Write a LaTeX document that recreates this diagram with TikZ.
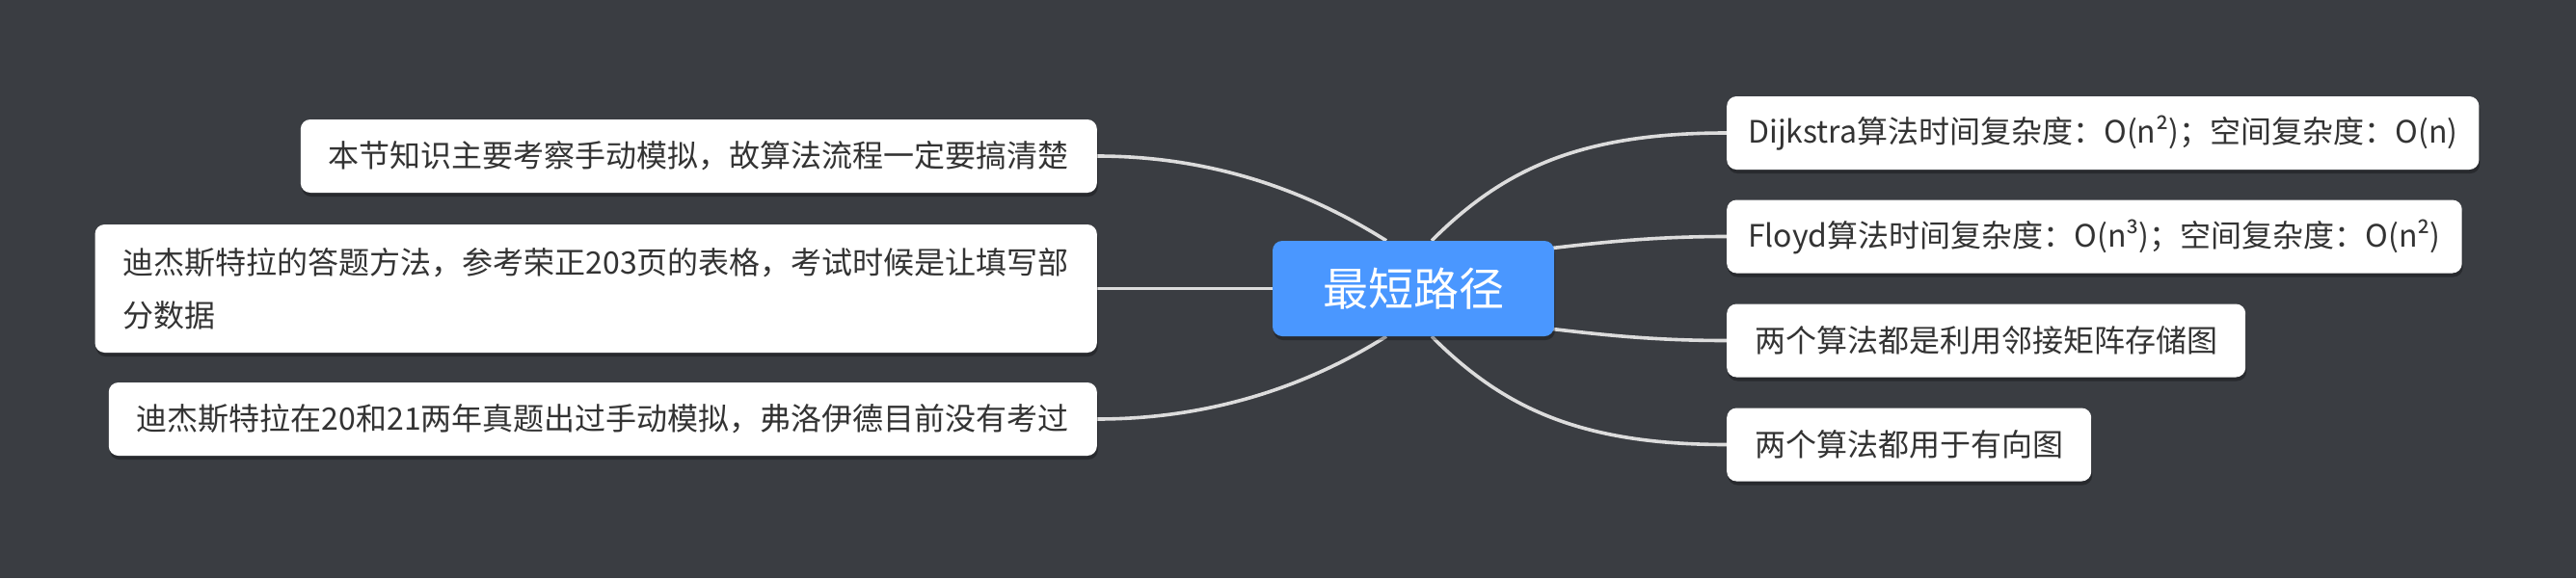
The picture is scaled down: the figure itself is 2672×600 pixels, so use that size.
\documentclass[tikz,border=0pt]{standalone}
\usepackage{fontspec}
\setmainfont{Noto Sans CJK SC}
\usetikzlibrary{shadows,backgrounds}
\definecolor{bg}{HTML}{3A3D42}
\definecolor{mainblue}{HTML}{4A97FF}
\definecolor{txt}{HTML}{333333}
\definecolor{conn}{HTML}{DCDCDC}
\tikzset{
  leaf/.style={fill=white, rounded corners=10pt, text=txt,
    font=\fontsize{32}{55}\selectfont, inner xsep=29pt, inner ysep=0pt,
    minimum height=76pt,
    drop shadow={shadow xshift=1pt, shadow yshift=-4pt, opacity=0.3, fill=black}},
  root/.style={fill=mainblue, rounded corners=10pt, text=white,
    font=\fontsize{47}{56}\selectfont, minimum width=292pt, minimum height=99pt,
    inner sep=0pt,
    drop shadow={shadow xshift=1pt, shadow yshift=-4pt, opacity=0.3, fill=black}},
  link/.style={draw=conn, line width=3.6pt},
}
\begin{document}
\begin{tikzpicture}[x=1pt,y=-1pt]
\begin{scope}[on background layer]
  \fill[bg] (0,0) rectangle (2672,600);
\end{scope}
\useasboundingbox (0,0) rectangle (2672,600);

\node[root] (c) at (1466,299.5) {最短路径};

\node[leaf, anchor=west, inner xsep=22pt] (r1) at (1791,138) {Dijkstra算法时间复杂度：O(n²)；空间复杂度：O(n)};
\node[leaf, anchor=west, inner xsep=22pt] (r2) at (1791,245.5) {Floyd算法时间复杂度：O(n³)；空间复杂度：O(n²)};
\node[leaf, anchor=west] (r3) at (1791,353.5) {两个算法都是利用邻接矩阵存储图};
\node[leaf, anchor=west] (r4) at (1791,461.5) {两个算法都用于有向图};

\node[leaf, anchor=east] (l1) at (1138,162) {本节知识主要考察手动模拟，故算法流程一定要搞清楚};
\node[leaf, anchor=east, align=left, minimum height=133pt] (l2) at (1138,299.5) {迪杰斯特拉的答题方法，参考荣正203页的表格，考试时候是让填写部\\分数据};
\node[leaf, anchor=east] (l3) at (1138,435) {迪杰斯特拉在20和21两年真题出过手动模拟，弗洛伊德目前没有考过};

\begin{scope}[on background layer]
  \draw[link] ([xshift=19pt]c.north) .. controls +(75,-75) and +(-151,0) .. (r1.west);
  \draw[link] ([xshift=-2pt,yshift=42pt]c.east) .. controls +(60,-7) and +(-70,0) .. (r2.west);
  \draw[link] ([xshift=-2pt,yshift=-42pt]c.east) .. controls +(60,7) and +(-70,0) .. (r3.west);
  \draw[link] ([xshift=19pt]c.south) .. controls +(75,75) and +(-151,0) .. (r4.west);
  \draw[link] ([xshift=-28pt]c.north) .. controls +(-48,-30) and +(150,0) .. (l1.east);
  \draw[link] (c.west) -- (l2.east);
  \draw[link] ([xshift=-28pt]c.south) .. controls +(-48,30) and +(150,0) .. (l3.east);
\end{scope}
\end{tikzpicture}
\end{document}
